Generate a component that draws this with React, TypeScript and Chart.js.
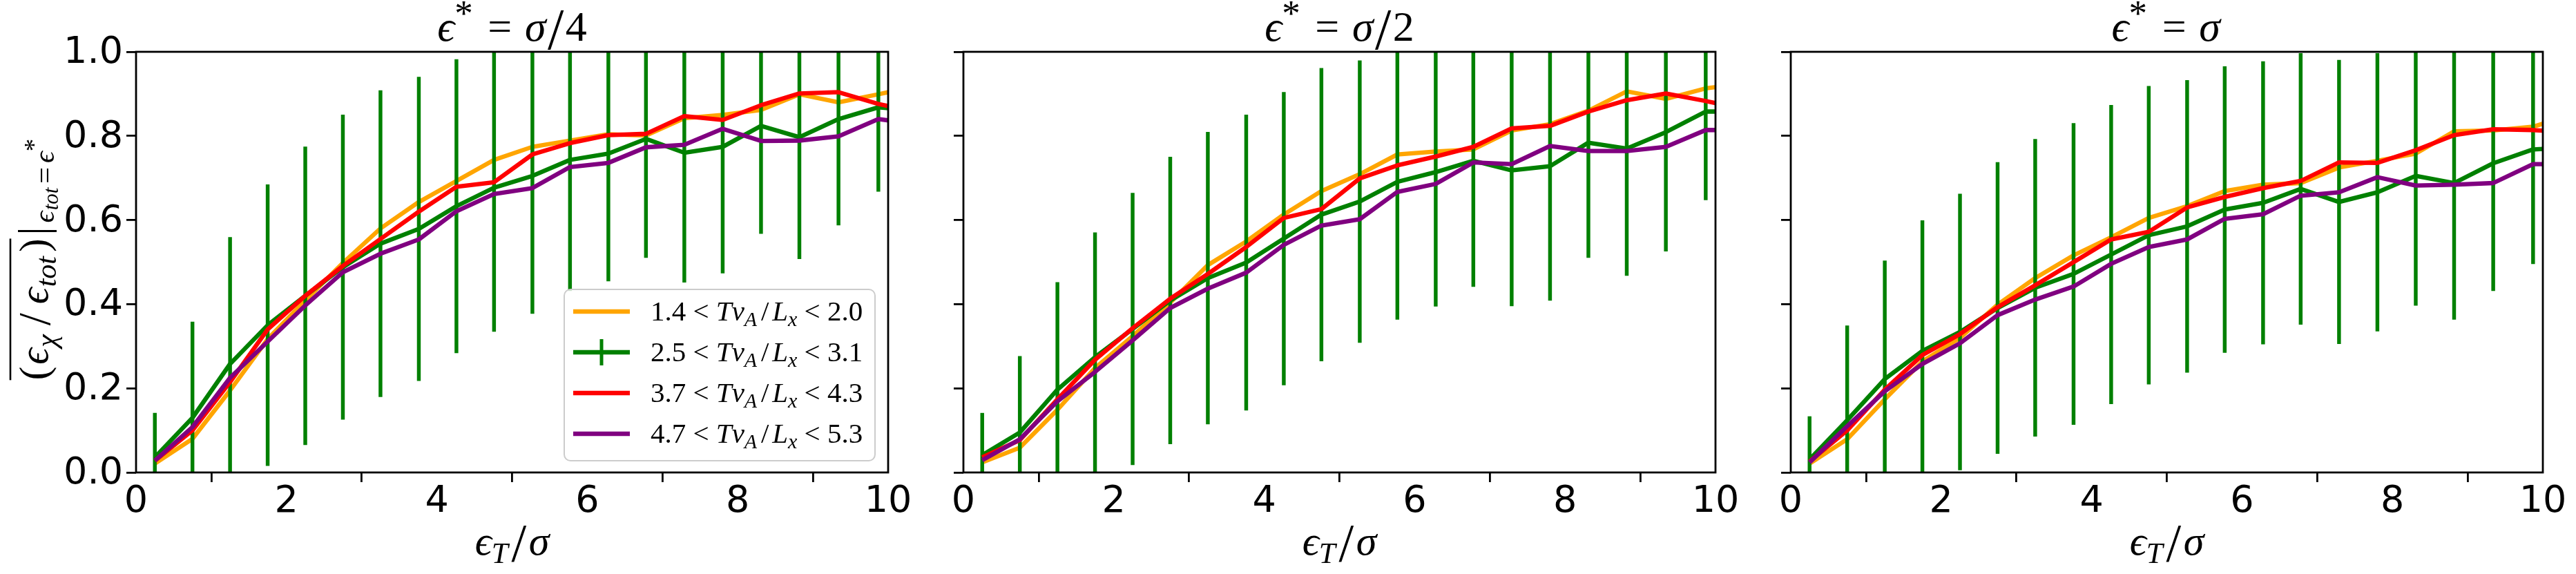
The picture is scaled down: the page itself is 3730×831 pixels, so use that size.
import React, { useEffect, useRef } from 'react';
import { Chart, registerables } from 'chart.js';

Chart.register(...registerables);

// ---------------- data ----------------
const xCenters = [0.25, 0.75, 1.25, 1.75, 2.25, 2.75, 3.25, 3.76, 4.26, 4.76, 5.27, 5.77, 6.28, 6.78, 7.29, 7.8, 8.31, 8.82, 9.34, 9.87, 10.39];

// panel 1 : eps* = sigma/4
const p1Orange = [0.021, 0.080, 0.195, 0.317, 0.409, 0.498, 0.580, 0.643, 0.693, 0.743, 0.774, 0.789, 0.804, 0.801, 0.842, 0.850, 0.862, 0.899, 0.880, 0.899, 0.919];
const p1Green = [0.036, 0.130, 0.258, 0.350, 0.420, 0.488, 0.544, 0.579, 0.633, 0.677, 0.705, 0.743, 0.758, 0.793, 0.760, 0.774, 0.824, 0.797, 0.840, 0.868, 0.860];
const p1GreenErr = [0.105, 0.228, 0.301, 0.334, 0.354, 0.362, 0.364, 0.361, 0.349, 0.342, 0.327, 0.311, 0.303, 0.282, 0.308, 0.300, 0.256, 0.289, 0.252, 0.200];
const p1Red = [0.028, 0.100, 0.215, 0.340, 0.420, 0.491, 0.555, 0.620, 0.679, 0.690, 0.756, 0.783, 0.802, 0.805, 0.847, 0.838, 0.873, 0.901, 0.904, 0.876, 0.856];
const p1Purple = [0.028, 0.108, 0.225, 0.311, 0.397, 0.476, 0.520, 0.554, 0.621, 0.662, 0.676, 0.726, 0.736, 0.773, 0.779, 0.817, 0.788, 0.789, 0.799, 0.840, 0.828];

// panel 2 : eps* = sigma/2
const p2Orange = [0.024, 0.059, 0.149, 0.248, 0.324, 0.404, 0.493, 0.549, 0.613, 0.669, 0.709, 0.756, 0.763, 0.768, 0.813, 0.828, 0.860, 0.906, 0.888, 0.913, 0.925];
const p2Green = [0.041, 0.095, 0.197, 0.274, 0.341, 0.409, 0.462, 0.499, 0.556, 0.613, 0.644, 0.691, 0.714, 0.741, 0.718, 0.728, 0.784, 0.770, 0.809, 0.858, 0.858];
const p2GreenErr = [0.100, 0.181, 0.255, 0.296, 0.323, 0.341, 0.347, 0.351, 0.348, 0.348, 0.335, 0.327, 0.319, 0.299, 0.322, 0.319, 0.273, 0.302, 0.283, 0.210];
const p2Red = [0.036, 0.077, 0.174, 0.268, 0.343, 0.413, 0.472, 0.536, 0.605, 0.626, 0.699, 0.730, 0.751, 0.774, 0.818, 0.824, 0.858, 0.885, 0.901, 0.883, 0.863];
const p2Purple = [0.029, 0.079, 0.169, 0.239, 0.314, 0.391, 0.437, 0.475, 0.541, 0.587, 0.602, 0.667, 0.686, 0.737, 0.733, 0.776, 0.764, 0.764, 0.774, 0.814, 0.814];

// panel 3 : eps* = sigma
const p3Orange = [0.021, 0.079, 0.174, 0.264, 0.320, 0.399, 0.462, 0.516, 0.559, 0.605, 0.633, 0.669, 0.684, 0.688, 0.725, 0.741, 0.758, 0.811, 0.813, 0.822, 0.850];
const p3Green = [0.031, 0.124, 0.222, 0.289, 0.334, 0.391, 0.439, 0.472, 0.518, 0.564, 0.585, 0.625, 0.641, 0.674, 0.643, 0.666, 0.705, 0.688, 0.735, 0.768, 0.772];
const p3GreenErr = [0.102, 0.225, 0.281, 0.310, 0.328, 0.346, 0.353, 0.358, 0.355, 0.354, 0.347, 0.340, 0.336, 0.322, 0.337, 0.330, 0.308, 0.324, 0.303, 0.272];
const p3Red = [0.026, 0.100, 0.197, 0.279, 0.329, 0.393, 0.445, 0.500, 0.554, 0.572, 0.630, 0.655, 0.676, 0.693, 0.737, 0.736, 0.766, 0.802, 0.816, 0.814, 0.808];
const p3Purple = [0.024, 0.110, 0.193, 0.258, 0.307, 0.374, 0.411, 0.442, 0.496, 0.536, 0.554, 0.603, 0.614, 0.658, 0.666, 0.702, 0.682, 0.684, 0.688, 0.733, 0.733];

const xTickValues = [0, 2, 4, 6, 8, 10];
const yTickValues = [0, 0.2, 0.4, 0.6, 0.8, 1.0];
const bandLow = ['1.4', '2.5', '3.7', '4.7'];
const bandHigh = ['2.0', '3.1', '4.3', '5.3'];
const titleDenoms = ['4', '2', ''];

const panelSeries = [
  { orange: p1Orange, green: p1Green, greenErr: p1GreenErr, red: p1Red, purple: p1Purple },
  { orange: p2Orange, green: p2Green, greenErr: p2GreenErr, red: p2Red, purple: p2Purple },
  { orange: p3Orange, green: p3Green, greenErr: p3GreenErr, red: p3Red, purple: p3Purple },
];

// ---------------- styles / layout ----------------
const ORANGE = '#FFA500';
const GREEN = '#008000';
const RED = '#FF0000';
const PURPLE = '#800080';
const SERIF = '"Liberation Serif", "DejaVu Serif", serif';
const SANS = 'DejaVu Sans';
const PLOT_W = 1089;
const PLOT_TOP = 75;
const PLOT_BOTTOM = 684;
const CANVAS_H = 831;
const LINE_W = 6.3;

const layouts = [
  { canvasLeft: 0, canvasWidth: 1341, yAxisWidth: 197 },
  { canvasLeft: 1335, canvasWidth: 1204, yAxisWidth: 60 },
  { canvasLeft: 2533, canvasWidth: 1194, yAxisWidth: 60 },
];

type Run = { t: string; it?: boolean; s?: number; dy?: number; dx?: number; pre?: number };

function fontFor(r: Run, size: number) {
  return `${r.it ? 'italic ' : ''}${Math.round(size * (r.s ?? 1))}px ${SERIF}`;
}
function runsWidth(ctx: CanvasRenderingContext2D, runs: Run[], size: number) {
  let w = 0;
  for (const r of runs) {
    ctx.font = fontFor(r, size);
    w += (r.pre ?? 0) * size + ctx.measureText(r.t).width + (r.dx ?? 0) * size;
  }
  return w;
}
function drawRuns(ctx: CanvasRenderingContext2D, runs: Run[], x: number, y: number, size: number) {
  let cx = x;
  for (const r of runs) {
    ctx.font = fontFor(r, size);
    ctx.textAlign = 'left';
    ctx.textBaseline = 'alphabetic';
    cx += (r.pre ?? 0) * size;
    ctx.fillText(r.t, cx, y + (r.dy ?? 0) * size);
    cx += ctx.measureText(r.t).width + (r.dx ?? 0) * size;
  }
  return cx;
}
function drawCentered(ctx: CanvasRenderingContext2D, runs: Run[], cx: number, y: number, size: number) {
  const w = runsWidth(ctx, runs, size);
  drawRuns(ctx, runs, cx - w / 2, y, size);
}

function titleRuns(denom: string): Run[] {
  const runs: Run[] = [
    { t: 'ϵ', it: true },
    { t: '*', s: 0.85, dy: -0.36, dx: 0.1 },
    { t: '=', pre: 0.25, dx: 0.3 },
    { t: 'σ', it: true, dx: 0.04 },
  ];
  if (denom) {
    runs.push({ t: '/', s: 1.35, dy: 0.19, dx: 0.04 });
    runs.push({ t: denom });
  }
  return runs;
}

const xLabelRuns: Run[] = [
  { t: 'ϵ', it: true },
  { t: 'T', it: true, s: 0.72, dy: 0.2, dx: 0.08 },
  { t: '/', s: 1.3, dy: 0.15, dx: 0.06 },
  { t: 'σ', it: true },
];

const yMainRuns: Run[] = [
  { t: '(', dx: 0.05 },
  { t: 'ϵ', it: true, dx: 0.02 },
  { t: 'χ', it: true, s: 0.72, dy: 0.2, dx: 0.22 },
  { t: '/', s: 1.1, dy: 0.05, dx: 0.22 },
  { t: 'ϵ', it: true, dx: 0.02 },
  { t: 'tot', it: true, s: 0.72, dy: 0.2, dx: 0.1 },
  { t: ')' },
];
const yBarRuns: Run[] = [{ t: '|', s: 1.05, pre: 0.08, dx: 0.1 }];
const ySubRuns: Run[] = [
  { t: 'ϵ', it: true, s: 0.72, dy: 0.16, dx: 0.02 },
  { t: 'tot', it: true, s: 0.52, dy: 0.26, dx: 0.1 },
  { t: '=', s: 0.72, dy: 0.16, dx: 0.1 },
  { t: 'ϵ', it: true, s: 0.72, dy: 0.16 },
  { t: '*', s: 0.62, dy: -0.14 },
];

function legendRuns(i: number): Run[] {
  return [
    { t: bandLow[i] },
    { t: ' < ' },
    { t: 'T', it: true },
    { t: 'v', it: true },
    { t: 'A', it: true, s: 0.72, dy: 0.2, dx: 0.1 },
    { t: '/', pre: 0.04, dx: 0.12 },
    { t: 'L', it: true },
    { t: 'x', it: true, s: 0.72, dy: 0.2 },
    { t: ' < ' },
    { t: bandHigh[i] },
  ];
}

function drawLegend(ctx: CanvasRenderingContext2D, a: any) {
  const w = 450;
  const h = 248;
  const x0 = a.right - 19 - w;
  const y0 = a.bottom - 17 - h;
  ctx.beginPath();
  (ctx as any).roundRect(x0, y0, w, h, 9);
  ctx.fillStyle = 'rgba(255,255,255,0.8)';
  ctx.fill();
  ctx.strokeStyle = '#cccccc';
  ctx.lineWidth = 2;
  ctx.stroke();
  const colors = [ORANGE, GREEN, RED, PURPLE];
  for (let i = 0; i < 4; i++) {
    const yy = y0 + 32 + i * 59;
    ctx.strokeStyle = colors[i];
    ctx.lineWidth = LINE_W;
    ctx.lineCap = 'butt';
    ctx.beginPath();
    ctx.moveTo(x0 + 13, yy);
    ctx.lineTo(x0 + 95, yy);
    ctx.stroke();
    if (i === 1) {
      ctx.lineWidth = 5;
      ctx.beginPath();
      ctx.moveTo(x0 + 54, yy - 19);
      ctx.lineTo(x0 + 54, yy + 19);
      ctx.stroke();
    }
    ctx.fillStyle = '#000';
    drawRuns(ctx, legendRuns(i), x0 + 125, yy + 13, 41);
  }
}

function decorPlugin(pi: number) {
  return {
    id: 'decor' + pi,
    afterDatasetsDraw(chart: any) {
      const { ctx, chartArea: a } = chart;
      ctx.save();
      ctx.strokeStyle = '#000';
      ctx.lineWidth = 2.8;
      ctx.strokeRect(a.left, a.top, a.right - a.left, a.bottom - a.top);
      if (pi === 0) drawLegend(ctx, a);
      ctx.restore();
    },
    afterDraw(chart: any) {
      const { ctx, chartArea: a } = chart;
      ctx.save();
      ctx.fillStyle = '#000';
      const cx = (a.left + a.right) / 2;
      drawCentered(ctx, titleRuns(titleDenoms[pi]), cx, 59, 62);
      drawCentered(ctx, xLabelRuns, cx, 803, 60);
      if (pi === 0) {
        const ySize = 59;
        const wMain = runsWidth(ctx, yMainRuns, ySize);
        const wBar = runsWidth(ctx, yBarRuns, ySize);
        const wSub = runsWidth(ctx, ySubRuns, ySize);
        const total = wMain + wBar + wSub;
        ctx.translate(69, (a.top + a.bottom) / 2 - 4);
        ctx.rotate(-Math.PI / 2);
        let sx = -total / 2;
        const startMain = sx;
        sx = drawRuns(ctx, yMainRuns, sx, 0, ySize);
        ctx.strokeStyle = '#000';
        ctx.lineWidth = 2.6;
        ctx.beginPath();
        ctx.moveTo(startMain, -54);
        ctx.lineTo(startMain + wMain, -54);
        ctx.stroke();
        sx = drawRuns(ctx, yBarRuns, sx, 0, ySize);
        drawRuns(ctx, ySubRuns, sx, 0, ySize);
      }
      ctx.restore();
    },
  };
}

function Panel({ pi }: { pi: number }) {
  const ref = useRef<HTMLCanvasElement>(null);
  const L = layouts[pi];
  useEffect(() => {
    const d = panelSeries[pi];
    const pts = (ys: number[]) => ys.map((y, i) => ({ x: xCenters[i], y }));
    const lineDs = (label: string, ys: number[], color: string, order: number) => ({
      type: 'line' as const,
      label,
      data: pts(ys),
      borderColor: color,
      backgroundColor: color,
      borderWidth: LINE_W,
      pointRadius: 0,
      pointHoverRadius: 0,
      tension: 0,
      fill: false,
      order,
      clip: 0,
      borderCapStyle: 'butt' as const,
      borderJoinStyle: 'round' as const,
    });
    const errDs = {
      type: 'bar' as const,
      label: 'err',
      data: d.greenErr.map((e, i) => ({ x: xCenters[i], y: [d.green[i] - e, d.green[i] + e] })),
      backgroundColor: GREEN,
      borderWidth: 0,
      barThickness: 4.8,
      grouped: false,
      order: 3,
      clip: 0,
    };
    const showY = pi === 0;
    const axisGrid = {
      display: true,
      drawOnChartArea: false,
      drawTicks: true,
      tickLength: 14,
      tickWidth: 2.8,
      tickColor: '#000',
      color: '#000',
      lineWidth: 2.8,
    };
    const chart = new Chart(ref.current as HTMLCanvasElement, {
      type: 'line',
      data: {
        datasets: [
          lineDs('4.7', d.purple, PURPLE, 1),
          lineDs('3.7', d.red, RED, 2),
          errDs as any,
          lineDs('2.5', d.green, GREEN, 4),
          lineDs('1.4', d.orange, ORANGE, 5),
        ],
      },
      options: {
        responsive: false,
        animation: false,
        devicePixelRatio: 1,
        events: [],
        layout: {
          padding: { top: PLOT_TOP, bottom: 0, left: 0, right: L.canvasWidth - L.yAxisWidth - PLOT_W },
        },
        plugins: {
          legend: { display: false },
          title: { display: false },
          tooltip: { enabled: false },
        },
        scales: {
          x: {
            type: 'linear',
            min: 0,
            max: 10,
            offset: false,
            afterFit: (s: any) => {
              s.height = CANVAS_H - PLOT_BOTTOM;
            },
            afterBuildTicks: (s: any) => {
              s.ticks = xTickValues.map((v) => ({ value: v }));
            },
            ticks: {
              autoSkip: false,
              maxRotation: 0,
              minRotation: 0,
              padding: 2,
              color: '#000',
              font: { family: SANS, size: 54, lineHeight: 1 },
              callback: (v: any) => String(v),
            },
            grid: axisGrid,
            border: { display: false },
          },
          y: {
            type: 'linear',
            min: 0,
            max: 1,
            afterFit: (s: any) => {
              s.width = L.yAxisWidth;
            },
            afterBuildTicks: (s: any) => {
              s.ticks = yTickValues.map((v) => ({ value: v }));
            },
            ticks: {
              autoSkip: false,
              padding: 5,
              labelOffset: 2,
              color: '#000',
              font: { family: SANS, size: 54, lineHeight: 1 },
              callback: (v: any) => (showY ? Number(v).toFixed(1) : ''),
            },
            grid: axisGrid,
            border: { display: false },
          },
        },
      } as any,
      plugins: [decorPlugin(pi)],
    });
    return () => chart.destroy();
  }, [pi]);
  return (
    <canvas
      ref={ref}
      width={L.canvasWidth}
      height={CANVAS_H}
      style={{ position: 'absolute', left: L.canvasLeft, top: 0, width: L.canvasWidth, height: CANVAS_H }}
    />
  );
}

export default function App() {
  return (
    <div style={{ position: 'absolute', left: 0, top: 0, width: 3730, height: 831, background: '#fff', overflow: 'hidden' }}>
      {[0, 1, 2].map((i) => (
        <Panel key={i} pi={i} />
      ))}
    </div>
  );
}
